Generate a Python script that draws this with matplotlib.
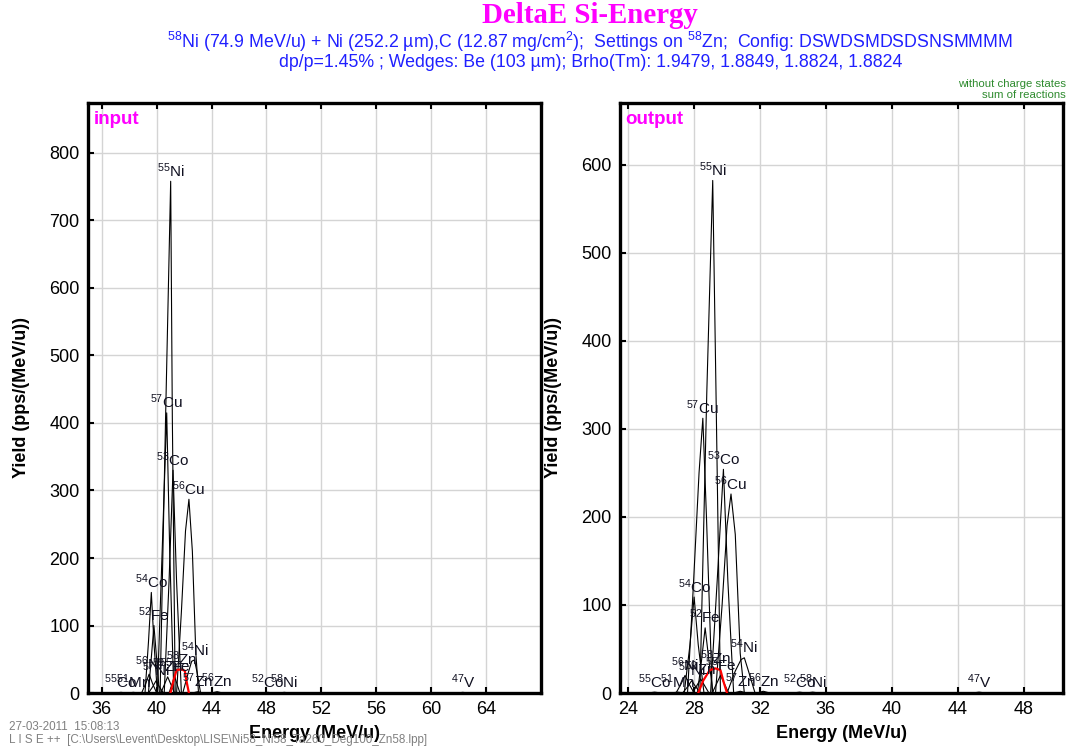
import matplotlib
matplotlib.use('Agg')
import matplotlib.pyplot as plt

plt.rcParams['font.family'] = ['Liberation Sans', 'DejaVu Sans']
plt.rcParams['mathtext.fontset'] = 'custom'
plt.rcParams['mathtext.rm'] = 'Liberation Sans'
plt.rcParams['mathtext.it'] = 'Liberation Sans'
plt.rcParams['mathtext.bf'] = 'Liberation Sans:bold'

# ---- input panel (before wedge) ----
in_labels = ['55Ni', '57Cu', '53Co', '56Cu', '54Co', '52Fe', '54Ni',
             '56Ni', '57Ni', '59Zn', '55Fe',
             '55Co', '51Mn', '57Zn', '56Zn', '52Co', '58Ni', '47V']
in_E = [[40.25, 40.65, 41.02, 41.14, 41.35],
        [40.05, 40.4, 40.73, 40.95, 41.25],
        [40.55, 40.9, 41.19, 41.45, 41.8],
        [41.45, 41.8, 42.1, 42.35, 42.6, 42.85, 43.05],
        [39.15, 39.4, 39.61, 39.8, 40.05],
        [39.4, 39.6, 39.8, 40.0, 40.2],
        [41.9, 42.3, 42.55, 42.75, 42.95, 43.2],
        [38.9, 39.2, 39.45, 39.7, 40.0],
        [39.4, 39.7, 39.95, 40.2, 40.5],
        [40.3, 40.55, 40.8, 41.05, 41.3],
        [40.9, 41.1, 41.3, 41.5, 41.7],
        [37.0, 37.4, 37.8],
        [37.9, 38.3, 38.7],
        [42.6, 43.0, 43.4],
        [44.0, 44.4, 44.8],
        [47.7, 48.1, 48.5],
        [48.9, 49.3, 49.7],
        [61.9, 62.3, 62.7]]
in_Y = [[0, 409, 758, 409, 0],
        [0, 210, 415, 210, 0],
        [0, 165, 330, 165, 0],
        [0, 120, 240, 287, 210, 60, 0],
        [0, 75, 149, 75, 0],
        [0, 50, 100, 50, 0],
        [0, 30, 47, 49, 30, 0],
        [0, 14, 28, 14, 0],
        [0, 9, 18, 9, 0],
        [0, 12, 24, 12, 0],
        [0, 12, 25, 12, 0],
        [0, 1, 0], [0, 1, 0], [0, 2, 0], [0, 2, 0],
        [0, 1, 0], [0, 1, 0], [0, 1, 0]]
in_red_E = [41.0, 41.25, 41.45, 41.8, 42.05, 42.2, 42.35]
in_red_Y = [0, 20, 34, 35, 33, 15, 0]

# ---- output panel (after wedge) ----
out_labels = ['55Ni', '57Cu', '53Co', '56Cu', '54Co', '52Fe', '54Ni',
              '56Ni', '57Ni', '59Zn', '55Fe',
              '55Co', '51Mn', '57Zn', '56Zn', '52Co', '58Ni', '47V']
out_E = [[28.35, 28.77, 29.13, 29.33, 29.6],
         [27.6, 27.95, 28.3, 28.53, 28.75, 29.1],
         [29.0, 29.4, 29.78, 30.05, 30.4],
         [29.3, 29.7, 30.0, 30.24, 30.5, 30.8, 31.05],
         [27.4, 27.75, 28.0, 28.25, 28.6],
         [28.2, 28.45, 28.67, 28.9, 29.15],
         [30.0, 30.5, 30.85, 31.05, 31.3, 31.7],
         [26.9, 27.2, 27.45, 27.7, 28.0],
         [27.3, 27.6, 27.85, 28.1, 28.4],
         [27.9, 28.15, 28.4, 28.65, 28.9],
         [29.1, 29.35, 29.6, 29.85, 30.1],
         [25.2, 25.6, 26.0],
         [26.6, 27.0, 27.4],
         [30.4, 30.8, 31.2],
         [31.8, 32.2, 32.6],
         [34.0, 34.4, 34.8],
         [34.8, 35.2, 35.6],
         [44.9, 45.3, 45.7]]
out_Y = [[0, 341, 582, 341, 0],
         [0, 120, 250, 312, 200, 0],
         [0, 127, 254, 127, 0],
         [0, 100, 190, 226, 180, 45, 0],
         [0, 55, 109, 55, 0],
         [0, 37, 74, 37, 0],
         [0, 25, 38, 40, 25, 0],
         [0, 10, 20, 10, 0],
         [0, 7, 14, 7, 0],
         [0, 8, 16, 8, 0],
         [0, 10, 20, 10, 0],
         [0, 1, 0], [0, 1, 0], [0, 2, 0], [0, 2, 0],
         [0, 1, 0], [0, 1, 0], [0, 1, 0]]
out_red_E = [28.25, 28.55, 28.95, 29.3, 29.6, 29.8, 30.0]
out_red_Y = [0, 14, 26, 28, 26, 12, 0]

in_xticks = [36, 40, 44, 48, 52, 56, 60, 64]
in_yticks = [0, 100, 200, 300, 400, 500, 600, 700, 800]
out_xticks = [24, 28, 32, 36, 40, 44, 48]
out_yticks = [0, 100, 200, 300, 400, 500, 600]


def iso(name):
    # split mass number and element -> superscript mass
    i = 0
    while i < len(name) and name[i].isdigit():
        i += 1
    return r'$^{%s}$%s' % (name[:i], name[i:])


def draw_panel(ax, labels, E, Y, red_E, red_Y, xlim, ylim, xticks, yticks, tag):
    for lab, e, y in zip(labels, E, Y):
        ax.plot(e, y, color='black', lw=0.8, zorder=3)
        k = y.index(max(y))
        ax.annotate(iso(lab), (e[k], y[k]), xytext=(0, 1), textcoords='offset points',
                    ha='center', va='bottom', fontsize=11, color='#101020', zorder=5)
    ax.plot(red_E, red_Y, color='red', lw=1.6, zorder=4)
    k = red_Y.index(max(red_Y))
    ax.annotate(iso('58Zn'), (red_E[k], red_Y[k]), xytext=(0, 1), textcoords='offset points',
                ha='center', va='bottom', fontsize=11, color='#101020', zorder=5)
    ax.set_xlim(*xlim)
    ax.set_ylim(*ylim)
    ax.set_xticks(xticks)
    ax.set_yticks(yticks)
    ax.grid(True, color='#d4d4d4', lw=1)
    ax.set_axisbelow(True)
    ax.tick_params(direction='in', length=4, width=1.5, top=True, labelsize=13, pad=6)
    for s in ax.spines.values():
        s.set_linewidth(2.4)
    ax.set_xlabel('Energy (MeV/u)', fontsize=13, fontweight='bold', labelpad=5)
    ax.set_ylabel('Yield (pps/(MeV/u))', fontsize=13, fontweight='bold', labelpad=14)
    ax.text(0.012, 0.987, tag, transform=ax.transAxes, ha='left', va='top',
            color='#ff00ff', fontsize=13.5, fontweight='bold')


fig = plt.figure(figsize=(10.79, 7.56), dpi=100)
ax1 = fig.add_axes([0.0816, 0.0833, 0.4198, 0.7805])
ax2 = fig.add_axes([0.5746, 0.0833, 0.4106, 0.7805])

draw_panel(ax1, in_labels, in_E, in_Y, in_red_E, in_red_Y, (35, 68), (0, 874),
           in_xticks, in_yticks, 'input')
draw_panel(ax2, out_labels, out_E, out_Y, out_red_E, out_red_Y, (23.5, 50.4), (0, 670),
           out_xticks, out_yticks, 'output')

fig.text(0.547, 0.979, 'DeltaE Si-Energy', ha='center', va='center', color='#ff00ff',
         fontsize=20.8, fontweight='bold', family='Liberation Serif')
fig.text(0.547, 0.945, r'$^{58}$Ni (74.9 MeV/u) + Ni (252.2 µm),C (12.87 mg/cm$^{2}$);  '
         r'Settings on $^{58}$Zn;  Config: DSWDSMDSDSNSMMMM',
         ha='center', va='center', color='#2020ff', fontsize=12.8)
fig.text(0.547, 0.917, 'dp/p=1.45% ; Wedges: Be (103 µm); Brho(Tm): 1.9479, 1.8849, 1.8824, 1.8824',
         ha='center', va='center', color='#2020ff', fontsize=12.8)
fig.text(0.988, 0.889, 'without charge states', ha='right', va='center',
         color='#2e8b2e', fontsize=8.2)
fig.text(0.988, 0.874, 'sum of reactions', ha='right', va='center',
         color='#2e8b2e', fontsize=8.2)
fig.text(0.008, 0.038, '27-03-2011  15:08:13', ha='left', va='center',
         color='#808080', fontsize=8.4)
fig.text(0.008, 0.021, r'L I S E ++  [C:\Users\Levent\Desktop\LISE\Ni58_Ni58_Ta260_Deg100_Zn58.lpp]',
         ha='left', va='center', color='#808080', fontsize=8.4)

fig.savefig('out.png', dpi=100)
